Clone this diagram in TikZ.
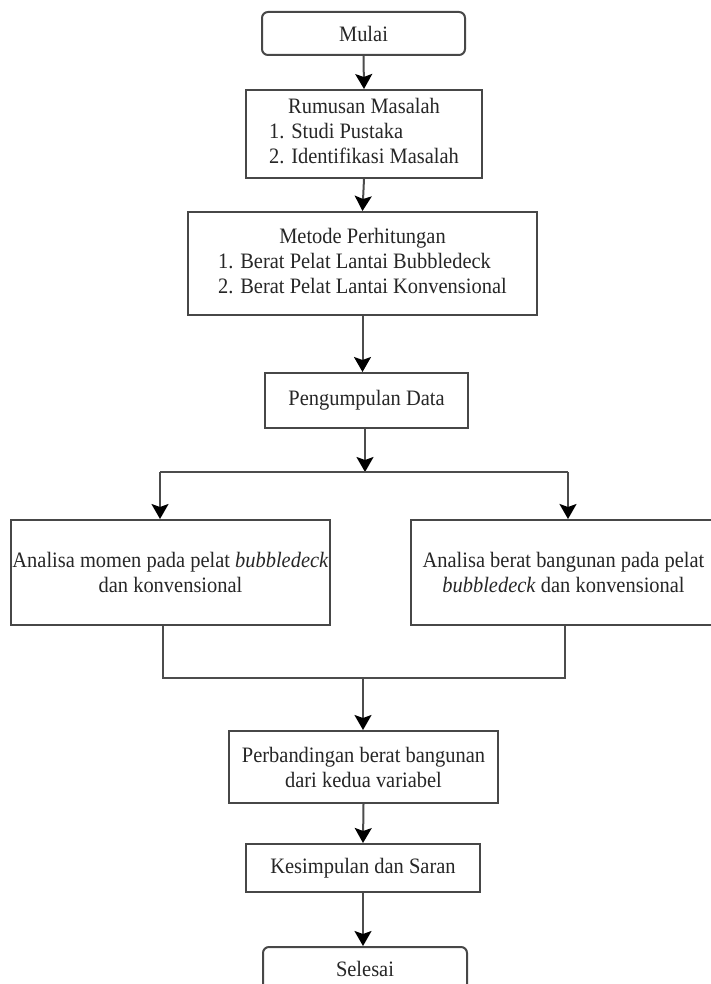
\documentclass[tikz,border=0pt]{standalone}
\usepackage{fontspec}
\setmainfont[FakeStretch=0.93]{Liberation Serif}
\usetikzlibrary{arrows.meta}
\begin{document}
\begin{tikzpicture}[x=1pt,y=-1pt,
  box/.style={draw=black!72, line width=2pt, inner sep=0pt, align=center,
    font=\fontsize{22}{25}\selectfont, text=black!85},
  term/.style={box, rounded corners=6pt},
  link/.style={draw=black!70, line width=2pt},
  arr/.style={link, -{Stealth[length=15pt,width=17pt,inset=3pt,color=black]}}]
\useasboundingbox (0,0) rectangle (711,984);
\clip (0,0) rectangle (711,984);
\node[term, minimum width=203pt, minimum height=43pt] (mulai) at (363.5,33.5) {Mulai};
\node[box, minimum width=236pt, minimum height=88pt] (rum) at (364,134)
  {\begin{tabular}{@{}l@{}}\multicolumn{1}{@{}c@{}}{Rumusan Masalah}\\ 1. Studi Pustaka\\ 2. Identifikasi Masalah\end{tabular}};
\node[box, minimum width=349pt, minimum height=103pt] (met) at (362.5,263.5)
  {\begin{tabular}{@{}l@{}}\multicolumn{1}{@{}c@{}}{Metode Perhitungan}\\ 1. Berat Pelat Lantai Bubbledeck\\ 2. Berat Pelat Lantai Konvensional\end{tabular}};
\node[box, minimum width=203pt, minimum height=55pt] (peng) at (366.5,400.5) {Pengumpulan Data};
\node[box, minimum width=319pt, minimum height=105pt] (anaL) at (170.5,572.5)
  {Analisa momen pada pelat \textit{bubbledeck}\\ dan konvensional};
\node[box, minimum width=305pt, minimum height=105pt] (anaR) at (563.5,572.5)
  {Analisa berat bangunan pada pelat\\ \textit{bubbledeck} dan konvensional};
\node[box, minimum width=269pt, minimum height=72pt] (perb) at (363.5,767)
  {Perbandingan berat bangunan\\ dari kedua variabel};
\node[box, minimum width=234pt, minimum height=48pt] (kes) at (363,868) {Kesimpulan dan Saran};
\node[term, minimum width=204pt, minimum height=43pt] (sel) at (365,968.5) {Selesai};

\coordinate (split) at (365,472);
\coordinate (splitL) at (160,472);
\coordinate (splitR) at (568,472);
\coordinate (joinL) at (163,678);
\coordinate (joinR) at (565,678);
\coordinate (join) at (363,678);

\draw[arr] (mulai.south) -- (rum.north);
\draw[arr] (rum.south) -- (met.north);
\draw[arr] (met.south) -- (met.south |- peng.north);
\draw[arr] (peng.south -| split) -- (split);
\draw[link] (splitL) -- (splitR);
\draw[arr] (splitL) -- (splitL |- anaL.north);
\draw[arr] (splitR) -- (splitR |- anaR.north);
\draw[link] (joinL |- anaL.south) -- (joinL) -- (joinR) -- (joinR |- anaR.south);
\draw[arr] (join) -- (join |- perb.north);
\draw[arr] (perb.south) -- (kes.north);
\draw[arr] (kes.south) -- (kes.south |- sel.north);
\end{tikzpicture}
\end{document}
